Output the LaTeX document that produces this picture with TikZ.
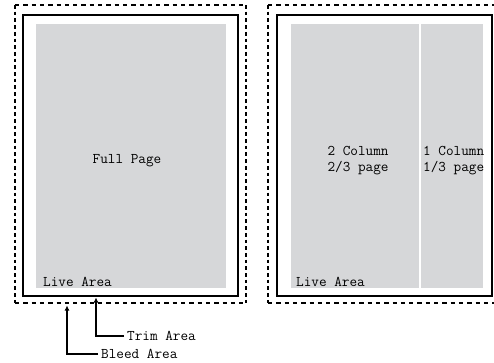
\documentclass[tikz,border=0pt]{standalone}
\usetikzlibrary{arrows.meta}
\definecolor{livegray}{RGB}{214,215,217}
\tikzset{
  bleedh/.style={line width=2pt, dash pattern=on 4.3pt off 4pt},
  bleedv/.style={line width=2pt, dash pattern=on 3.7pt off 3pt},
  trimbox/.style={line width=2pt, draw=black},
  livebox/.style={fill=livegray, draw=none},
  lbl/.style={font=\ttfamily\fontsize{14.8}{16}\selectfont, inner sep=0pt},
  callout/.style={line width=1.5pt, -{Latex[length=5pt,width=5pt]}, shorten <=3pt}
}
\begin{document}
\begin{tikzpicture}[x=1pt,y=-1pt]
\useasboundingbox (0,0) rectangle (494,362);
\clip (0,0) rectangle (494,362);
% left panel
\coordinate (LBtl) at (15,5);
\coordinate (LBtr) at (246,5);
\coordinate (LBbl) at (15,303);
\coordinate (LBbr) at (246,303);
\draw[bleedh] (LBtl) -- (LBtr);
\draw[bleedh] (LBbl) -- (LBbr);
\draw[bleedv] (LBtl) -- (LBbl);
\draw[bleedv] (LBtr) -- (LBbr);
\draw[trimbox] (23,15) rectangle (238,296);
\fill[livebox] (36,24) rectangle (226,288);
\node[lbl] (full) at (127,161) {Full Page};
\node[lbl, anchor=west] (live1) at (43,282) {Live Area};
% right panel
\coordinate (RBtl) at (268,5);
\coordinate (RBtr) at (510,5);
\coordinate (RBbl) at (268,303);
\coordinate (RBbr) at (510,303);
\draw[bleedh] (RBtl) -- (RBtr);
\draw[bleedh] (RBbl) -- (RBbr);
\draw[bleedv] (RBtl) -- (RBbl);
\draw[trimbox] (277,15) rectangle (492,296);
\fill[livebox] (291,24) rectangle (419,288);
\fill[livebox] (421,24) rectangle (483,288);
\node[lbl, align=left] (two) at (358,161) {2 Column\\2/3 page};
\node[lbl, align=left, anchor=west] (one) at (423,161) {1 Column\\1/3 page};
\node[lbl, anchor=west] (live2) at (296,282) {Live Area};
% callouts
\node[lbl, anchor=west] (trim) at (127,336) {Trim Area};
\node[lbl, anchor=west] (bleed) at (101,354) {Bleed Area};
\coordinate (trimtip) at (96,297.5);
\coordinate (bleedtip) at (67,305.5);
\draw[callout] (trim.west) -| (trimtip);
\draw[callout] (bleed.west) -| (bleedtip);
\end{tikzpicture}
\end{document}
